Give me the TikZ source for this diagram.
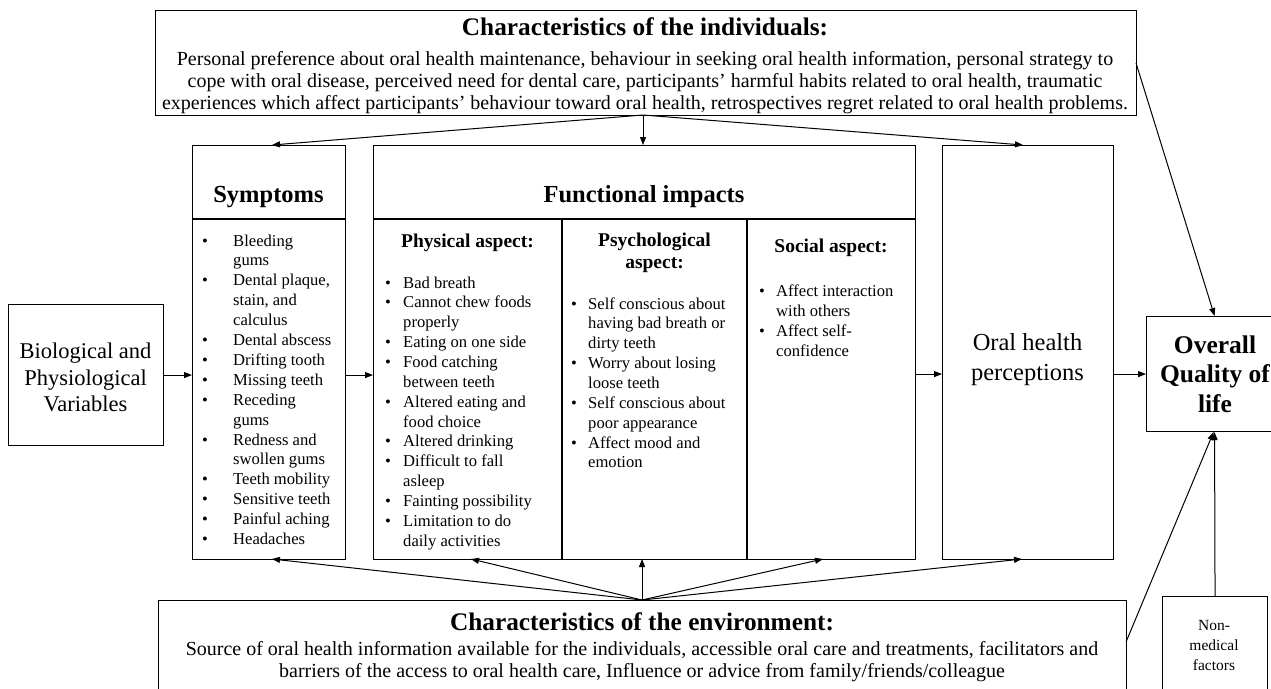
\documentclass[tikz,border=0pt]{standalone}
\usepackage{fontspec}
\setmainfont{Liberation Serif}
\usetikzlibrary{arrows.meta}
\newcommand\fbody{\fontsize{16.6}{20}\selectfont}
\newcommand\fbig{\fontsize{24.5}{30}\selectfont}
\newcommand\ftitle{\fontsize{25.3}{30}\selectfont}
\newcommand\ftop{\fontsize{20}{22}\selectfont}
\begin{document}
\begin{tikzpicture}[x=1pt,y=-1pt,
  box/.style={draw, line width=1.1pt, inner sep=0, anchor=north west},
  arr/.style={-{Triangle[length=8pt,width=6pt]}, line width=1pt},
  txt/.style={inner sep=0, anchor=base},
  ltxt/.style={inner sep=0, anchor=base west, font=\fbody},
  bul/.style={inner sep=0, anchor=base west, font=\fbody}]
\useasboundingbox (0,0) rectangle (1271,688);
\clip (0,0) rectangle (1271,688);

% ---------- boxes ----------
\node[box, minimum width=981pt, minimum height=105pt] (top) at (155,10) {};
\node[box, minimum width=153pt, minimum height=414pt] (sym) at (192,145) {};
\node[box, minimum width=542pt, minimum height=414pt] (func) at (373,145) {};
\node[box, minimum width=171pt, minimum height=414pt] (oral) at (942,145) {};
\node[box, minimum width=155pt, minimum height=141pt] (bio) at (8,304) {};
\node[box, minimum width=136pt, minimum height=115pt] (qol) at (1146,316) {};
\node[box, minimum width=968pt, minimum height=92pt] (env) at (158,600) {};
\node[box, minimum width=105pt, minimum height=96pt] (nonmed) at (1162,596) {};

% inner dividers
\draw[line width=1.1pt] (192,219) -- (345,219);
\draw[line width=1.1pt] (373,219) -- (915,219);
\draw[line width=1.1pt] (562,219) -- (562,559);
\draw[line width=1.1pt] (747,219) -- (747,559);

% ---------- top box text ----------
\node[txt, font=\bfseries\ftitle] (toptitle) at (645,35) {Characteristics of the individuals:};
\node[txt, font=\ftop] (topl1) at (645,65) {Personal preference about oral health maintenance, behaviour in seeking oral health information, personal strategy to};
\node[txt, font=\ftop] (topl2) at (645,87) {cope with oral disease, perceived need for dental care, participants’ harmful habits related to oral health, traumatic};
\node[txt, font=\ftop] (topl3) at (645,109) {experiences which affect participants’ behaviour toward oral health, retrospectives regret related to oral health problems.};

% ---------- env box text ----------
\node[txt, font=\bfseries\ftitle] (envtitle) at (642,630) {Characteristics of the environment:};
\node[txt, font=\ftop] (envl1) at (642,655) {Source of oral health information available for the individuals, accessible oral care and treatments, facilitators and};
\node[txt, font=\ftop] (envl2) at (642,677) {barriers of the access to oral health care, Influence or advice from family/friends/colleague};

% ---------- headers ----------
\node[txt, font=\bfseries\fbig] (symtitle) at (268.5,202) {Symptoms};
\node[txt, font=\bfseries\fbig] (functitle) at (644,202) {Functional impacts};
\node[txt, font=\bfseries\fontsize{19.5}{22}\selectfont] (phys) at (467.5,247) {Physical aspect:};
\node[txt, font=\bfseries\fontsize{19.5}{22}\selectfont] (psy1) at (654.5,246) {Psychological};
\node[txt, font=\bfseries\fontsize{19.5}{22}\selectfont] (psy2) at (654.5,268) {aspect:};
\node[txt, font=\bfseries\fontsize{19.5}{22}\selectfont] (soc) at (831,252) {Social aspect:};

% ---------- symptoms list ----------
\foreach \t [count=\i from 0] in {Bleeding,gums,{Dental plaque,},{stain, and},calculus,Dental abscess,Drifting tooth,Missing teeth,Receding,gums,Redness and,swollen gums,Teeth mobility,Sensitive teeth,Painful aching,Headaches}
  \node[ltxt] (sy\i) at (233,246+19.9*\i) {\t};
\foreach \i in {0,2,5,6,7,8,10,12,13,14,15}
  \node[bul] (syb\i) at (202,246+19.9*\i) {\textbullet};

% ---------- physical list ----------
\foreach \t [count=\i from 0] in {Bad breath,Cannot chew foods,properly,Eating on one side,Food catching,between teeth,Altered eating and,food choice,Altered drinking,Difficult to fall,asleep,Fainting possibility,Limitation to do,daily activities}
  \node[ltxt] (ph\i) at (403,288+19.87*\i) {\t};
\foreach \i in {0,1,3,4,6,8,9,11,12}
  \node[bul] (phb\i) at (385,288+19.87*\i) {\textbullet};

% ---------- psychological list ----------
\foreach \t [count=\i from 0] in {Self conscious about,having bad breath or,dirty teeth,Worry about losing,loose teeth,Self conscious about,poor appearance,Affect mood and,emotion}
  \node[ltxt] (ps\i) at (588,309+19.87*\i) {\t};
\foreach \i in {0,3,5,7}
  \node[bul] (psb\i) at (571,309+19.87*\i) {\textbullet};

% ---------- social list ----------
\foreach \t [count=\i from 0] in {Affect interaction,with others,Affect self-,confidence}
  \node[ltxt] (so\i) at (776,296+20*\i) {\t};
\foreach \i in {0,2}
  \node[bul] (sob\i) at (759,296+20*\i) {\textbullet};

% ---------- other box texts ----------
\node[txt, font=\fontsize{22.5}{27}\selectfont] (bio1) at (85.5,358) {Biological and};
\node[txt, font=\fontsize{22.5}{27}\selectfont] (bio2) at (85.5,385) {Physiological};
\node[txt, font=\fontsize{22.5}{27}\selectfont] (bio3) at (85.5,411) {Variables};
\node[txt, font=\fbig] (oral1) at (1027.5,350) {Oral health};
\node[txt, font=\fbig] (oral2) at (1027.5,380) {perceptions};
\node[txt, font=\bfseries\fontsize{25.5}{30}\selectfont] (q1) at (1215,353) {Overall};
\node[txt, font=\bfseries\fontsize{25.5}{30}\selectfont] (q2) at (1215,382) {Quality of};
\node[txt, font=\bfseries\fontsize{25.5}{30}\selectfont] (q3) at (1215,412) {life};
\node[txt, font=\fontsize{15.5}{19}\selectfont] (nm1) at (1214,630) {Non-};
\node[txt, font=\fontsize{15.5}{19}\selectfont] (nm2) at (1214,650) {medical};
\node[txt, font=\fontsize{15.5}{19}\selectfont] (nm3) at (1214,670) {factors};

% ---------- connector end points ----------
\coordinate (topsrc) at (643,115);
\coordinate (envsrc) at (642,600);
\coordinate (fb1) at (471,559);
\coordinate (fb2) at (642,559);
\coordinate (fb3) at (823,559);
\coordinate (symtop) at (272,145);
\coordinate (symbot) at (272,559);
\coordinate (oraltop) at (1023,145);
\coordinate (oralbot) at (1022,559);
\coordinate (topq) at (1136,63);
\coordinate (envq) at (1126,642);

% ---------- connectors ----------
\draw[arr] (topsrc) -- (symtop);
\draw[arr] (topsrc) -- (topsrc |- func.north);
\draw[arr] (topsrc) -- (oraltop);
\draw[arr] (topq) -- (qol.north);

\draw[arr] (bio.east) -- (bio.east -| sym.west);
\draw[arr] (bio.east -| sym.east) -- (bio.east -| func.west);
\draw[arr] (qol.west -| func.east) -- (qol.west -| oral.west);
\draw[arr] (oral.east |- qol.west) -- (qol.west);

\draw[arr] (envsrc) -- (symbot);
\draw[arr] (envsrc) -- (fb1);
\draw[arr] (envsrc) -- (fb2);
\draw[arr] (envsrc) -- (fb3);
\draw[arr] (envsrc) -- (oralbot);

\draw[arr] (envq) -- ([xshift=-1pt]qol.south);
\draw[arr] (nonmed.north) -- (qol.south);
\end{tikzpicture}
\end{document}
